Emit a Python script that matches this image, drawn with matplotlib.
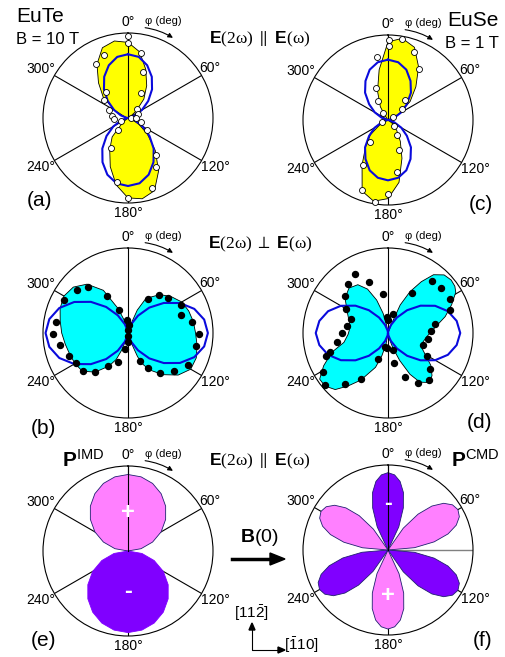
import numpy as np
import matplotlib.pyplot as plt

plt.rcParams['font.family'] = ['Liberation Sans', 'DejaVu Sans']
plt.rcParams['mathtext.fontset'] = 'custom'
plt.rcParams['mathtext.rm'] = 'Liberation Serif'
plt.rcParams['mathtext.it'] = 'Liberation Serif:italic'
plt.rcParams['mathtext.bf'] = 'Liberation Sans:bold'
plt.rcParams['mathtext.sf'] = 'Liberation Sans'

# angles in degrees (clockwise from top), radii relative to the outer circle
TICKS = [0, 60, 120, 180, 240, 300]
FIT_PHI = list(range(0, 361, 10))

# (a) EuTe, B = 10 T, E(2w) || E(w)
A_UP_PHI = [285, 290, 300, 310, 320, 330, 340, 350, 360, 370, 380, 390, 400, 410, 418, 422]
A_UP_R = [0, .04, .18, .38, .54, .73, .88, .92, .89, .79, .61, .44, .29, .12, .03, 0]
A_LOW_PHI = [105, 110, 120, 130, 140, 150, 160, 170, 180, 190, 200, 210, 220, 230, 236]
A_LOW_R = [0, .05, .15, .30, .50, .72, .91, .965, .94, .80, .61, .43, .29, .08, 0]
A_FIT_R = [.75, .73, .66, .56, .44, .31, .19, .09, .02, 0, .02, .09, .20, .33, .47, .60, .71, .78,
           .80, .78, .71, .60, .47, .33, .20, .09, .02, 0, .02, .09, .19, .31, .44, .56, .66, .73, .75]
A_PTS_PHI = [0, 0, 11, 339, 329, 18, 28, 320, 307, 293, 277, 264, 47, 69, 96, 92, 106, 250, 220,
             123, 143, 209, 150, 190, 161, 180]
A_PTS_R = [.96, .88, .78, .79, .74, .57, .33, .40, .35, .24, .19, .16, .15, .13, .04, .10, .16, .09,
           .19, .26, .54, .41, .67, .76, .87, .94]

# (c) EuSe, B = 1 T, E(2w) || E(w)
C_UP_PHI = [318, 326, 330, 340, 350, 360, 370, 380, 390, 400, 410, 420, 426, 432]
C_UP_R = [0, .07, .18, .36, .60, .92, .975, .91, .72, .51, .34, .16, .06, 0]
C_LOW_PHI = [122, 128, 140, 150, 160, 170, 180, 190, 200, 210, 220, 230, 240, 248]
C_LOW_R = [0, .065, .16, .29, .48, .745, .925, .97, .89, .61, .41, .27, .11, 0]
C_FIT_R = [.71, .69, .63, .53, .42, .29, .18, .08, .02, 0, .02, .08, .18, .29, .42, .53, .63, .69,
           .71, .69, .63, .53, .42, .29, .18, .08, .02, 0, .02, .08, .18, .29, .42, .53, .63, .69, .71]
C_PTS_PHI = [1, 10, 1, 21, 31, 340, 331, 40, 50, 325, 58, 252, 139, 150, 219, 160, 209, 170, 200,
             180, 189, 350]
C_PTS_R = [.94, .97, .87, .86, .70, .40, .25, .31, .21, .10, .07, .07, .10, .21, .33, .38, .60, .62,
           .88, .87, .98, .75]

# (b) EuTe, E(2w) _|_ E(w)
B_LEFT_PHI = [193, 196, 200, 204, 210, 220, 230, 240, 250, 260, 270, 280, 290, 300, 310, 320, 330,
              338, 346, 352]
B_LEFT_R = [0, .08, .21, .34, .45, .60, .70, .72, .73, .75, .78, .81, .85, .87, .84, .75, .58, .31,
            .13, 0]
B_RIGHT_PHI = [14, 18, 22, 27, 30, 40, 50, 60, 70, 80, 90, 100, 110, 120, 130, 140, 150, 155, 158,
               161, 165]
B_RIGHT_R = [0, .11, .29, .44, .48, .59, .665, .73, .76, .78, .795, .825, .855, .852, .77, .64, .50,
             .40, .30, .14, 0]
B_FIT_R = [0, .03, .11, .235, .39, .55, .705, .83, .91, .94, .91, .83, .705, .55, .39, .235, .11, .03,
           0, .03, .11, .24, .40, .57, .73, .86, .94, .97, .94, .86, .73, .57, .40, .24, .11, .03, 0]
B_PTS_PHI = [319, 310, 297, 330, 339, 279, 269, 260, 249, 240, 230, 220, 211, 200, 355, 7, 182, 190,
             30, 39, 49, 62, 71, 80, 91, 101, 118, 130, 141, 150, 156, 0, 180]
B_PTS_R = [.72, .78, .85, .50, .29, .86, .88, .81, .74, .71, .69, .60, .45, .36, .15, .10, .11, .19,
           .46, .58, .62, .70, .66, .76, .84, .81, .80, .70, .60, .47, .36, .04, .04]

# (d) EuSe, E(2w) _|_ E(w)
D_LEFT_PHI = [186, 190, 195, 200, 210, 217, 223, 230, 236, 243, 251, 258, 268, 279, 296, 309, 319,
              328, 335, 341, 346, 350, 354]
D_LEFT_R = [0, .13, .275, .43, .64, .78, .91, .97, .97, .85, .70, .53, .47, .45, .53, .65, .70, .67,
            .57, .41, .24, .09, 0]
D_RIGHT_PHI = [20, 22, 23.5, 28, 33, 38, 44, 50, 55, 59, 66, 74, 83, 96, 111, 121, 127, 134, 140,
               147, 152, 157, 162, 167, 171]
D_RIGHT_R = [0, .15, .36, .55, .72, .87, .95, .97, .96, .93, .82, .70, .56, .455, .41, .52, .63, .72,
             .76, .69, .55, .35, .18, .07, 0]
D_FIT_R = [0, .03, .10, .21, .35, .50, .64, .75, .82, .85, .82, .75, .64, .50, .35, .21, .10, .03,
           0, .03, .10, .21, .35, .50, .64, .75, .82, .85, .82, .75, .64, .50, .35, .21, .10, .03, 0]
D_PTS_PHI = [331, 321, 340, 311, 352, 291, 280, 260, 250, 239, 230, 220, 210, 169, 159, 149, 139,
             130, 121, 109, 98, 88, 79, 70, 61, 50, 40, 31, 14, 358, 1, 185, 163, 252, 192, 270,
             300, 200]
D_PTS_R = [.80, .74, .64, .67, .46, .46, .49, .61, .78, .89, .96, .79, .63, .36, .55, .69, .73, .65,
           .53, .44, .47, .51, .56, .78, .83, .82, .80, .55, .23, .19, .15, .18, .21, .72, .17, .54,
           .57, .33]

# (e) P^IMD
E_PLUS_PHI = [270, 280, 290, 300, 310, 320, 330, 340, 350, 360, 370, 380, 390, 400, 410, 420, 430,
              440, 450]
E_PLUS_R = [0, .156, .308, .45, .578, .689, .779, .846, .886, .90, .886, .846, .779, .689, .578,
            .45, .308, .156, 0]
E_MINUS_PHI = [90, 100, 110, 120, 130, 140, 150, 160, 170, 180, 190, 200, 210, 220, 230, 240, 250,
               260, 270]
E_MINUS_R = [0, .167, .328, .48, .617, .735, .831, .902, .945, .96, .945, .902, .831, .735, .617,
             .48, .328, .167, 0]

# (f) P^CMD: six petals
F_DIRS = [0, 60, 120, 180, 240, 300]
F_LEN = [.91, .95, .95, .93, .93, .91]
F_REL = [-30, -25, -20, -15, -10, -5, 0, 5, 10, 15, 20, 25, 30]
F_SHAPE = [0, .33, .58, .77, .90, .975, 1, .975, .90, .77, .58, .33, 0]

# tick label placement: (angle, radius, ha, va)
LABEL_POS = {0: (0, 1.13, 'center', 'center'), 60: (55, 1.03, 'left', 'center'),
             120: (124, 1.03, 'left', 'center'), 180: (180, 1.12, 'center', 'center'),
             240: (236, 1.03, 'right', 'center'), 300: (304, 1.03, 'right', 'center')}

PINK = '#ff80ff'
VIOLET = '#8000ff'
BLUE = '#0a0adc'

W, H = 505, 657
fig = plt.figure(figsize=(W / 100, H / 100), dpi=100)
rad = np.deg2rad


def polar_panel(cx, cy, R=85):
    ax = fig.add_axes([(cx - R) / W, 1 - (cy + R) / H, 2 * R / W, 2 * R / H],
                      projection='polar')
    ax.set_theta_zero_location('N')
    ax.set_theta_direction(-1)
    ax.set_ylim(0, 1)
    ax.set_yticks([])
    ax.set_xticks(rad(TICKS))
    ax.set_xticklabels([])
    ax.grid(True, color='k', lw=0.8)
    ax.set_axisbelow(True)
    ax.spines['polar'].set_linewidth(0.8)
    for t in TICKS:
        a, r, ha, va = LABEL_POS[t]
        ax.text(rad(a), r, f'{t}°', fontsize=10, ha=ha, va=va, clip_on=False)
    # little "phi (deg)" with curved arrow
    ax.text(rad(20), 1.21, 'φ (deg)', fontsize=8, ha='center', va='center')
    ax.annotate('', xy=(rad(31), 1.08), xytext=(rad(9), 1.08),
                arrowprops=dict(arrowstyle='-|>', color='k', lw=0.8, mutation_scale=7,
                                connectionstyle='arc3,rad=-0.12'),
                annotation_clip=False)
    return ax


def top_line(ax):
    ax.plot([0, 0], [0, 1], color='k', lw=0.8, zorder=2.5)


def ftext(x, y, s, **kw):
    fig.text(x / W, 1 - y / H, s, **kw)


def lobes(ax, parts, color):
    for phi, r in parts:
        ax.fill(rad(phi), r, facecolor=color, edgecolor='k', lw=0.6, zorder=2)


# (a)
ax = polar_panel(128, 118)
lobes(ax, [(A_UP_PHI, A_UP_R), (A_LOW_PHI, A_LOW_R)], '#ffff00')
top_line(ax)
ax.plot(rad(FIT_PHI), A_FIT_R, color=BLUE, lw=1.5, zorder=3)
ax.plot(rad(A_PTS_PHI), A_PTS_R, 'o', ms=4.3, mfc='white', mec='k', mew=0.6, zorder=4,
        clip_on=False)

# (c)
ax = polar_panel(388, 120)
lobes(ax, [(C_UP_PHI, C_UP_R), (C_LOW_PHI, C_LOW_R)], '#ffff00')
top_line(ax)
ax.plot(rad(FIT_PHI), C_FIT_R, color=BLUE, lw=1.5, zorder=3)
ax.plot(rad(C_PTS_PHI), C_PTS_R, 'o', ms=4.3, mfc='white', mec='k', mew=0.6, zorder=4,
        clip_on=False)

# (b)
ax = polar_panel(128, 333)
lobes(ax, [(B_LEFT_PHI, B_LEFT_R), (B_RIGHT_PHI, B_RIGHT_R)], '#00ffff')
ax.plot(rad(FIT_PHI), B_FIT_R, color=BLUE, lw=1.5, zorder=3)
ax.plot(rad(B_PTS_PHI), B_PTS_R, 'o', ms=4.3, color='k', zorder=4)

# (d)
ax = polar_panel(388, 333)
lobes(ax, [(D_LEFT_PHI, D_LEFT_R), (D_RIGHT_PHI, D_RIGHT_R)], '#00ffff')
ax.plot(rad(FIT_PHI), D_FIT_R, color=BLUE, lw=1.5, zorder=3)
ax.plot(rad(D_PTS_PHI), D_PTS_R, 'o', ms=4.3, color='k', zorder=4, clip_on=False)

# (e)
ax = polar_panel(128, 551)
ax.fill(rad(E_PLUS_PHI), E_PLUS_R, facecolor=PINK, edgecolor='#202070', lw=0.6, zorder=2)
ax.fill(rad(E_MINUS_PHI), E_MINUS_R, facecolor=VIOLET, edgecolor=VIOLET, lw=0.6, zorder=2)
top_line(ax)
ax.text(0, 0.45, '+', color='white', fontsize=17, fontweight='bold', ha='center', va='center',
        zorder=5)
ax.text(np.pi, 0.48, '-', color='white', fontsize=17, fontweight='bold', ha='center',
        va='center', zorder=5)

# (f)
ax = polar_panel(388, 550)
ax.plot([np.pi / 2, np.pi / 2], [0, 1], color='#808080', lw=1, zorder=1.8)
for i, (d, L) in enumerate(zip(F_DIRS, F_LEN)):
    col = VIOLET if i % 2 == 0 else PINK
    ax.fill(rad(np.add(F_REL, d)), np.multiply(F_SHAPE, L), facecolor=col, edgecolor='#202070',
            lw=0.6, zorder=2)
top_line(ax)
ax.text(0, 0.55, '-', color='white', fontsize=17, fontweight='bold', ha='center', va='center',
        zorder=5)
ax.text(np.pi, 0.53, '+', color='white', fontsize=17, fontweight='bold', ha='center',
        va='center', zorder=5)

# texts
par = r'$\mathbf{E}\mathrm{(2\omega)}\ \parallel\ \mathbf{E}\mathrm{(\omega)}$'
ftext(260, 39, par, fontsize=12.5, ha='center', va='center')
ftext(260, 244, r'$\mathbf{E}\mathrm{(2\omega)}\ \perp\ \mathbf{E}\mathrm{(\omega)}$',
      fontsize=12.5, ha='center', va='center')
ftext(260, 461, par, fontsize=12.5, ha='center', va='center')

ftext(16, 17, 'EuTe', fontsize=15, ha='left', va='center')
ftext(16, 40, 'B = 10 T', fontsize=12, ha='left', va='center')
ftext(499, 20, 'EuSe', fontsize=15, ha='right', va='center')
ftext(499, 43, 'B = 1 T', fontsize=12, ha='right', va='center')

for lab, x, y in [('(a)', 40, 200), ('(b)', 43, 428), ('(c)', 481, 205), ('(d)', 479, 422),
                  ('(e)', 44, 640), ('(f)', 483, 640)]:
    ftext(x, y, lab, fontsize=15, ha='center', va='center')

ftext(62, 460, r'$\mathbf{P}^{\mathsf{IMD}}$', fontsize=15, ha='left', va='center')
ftext(451, 460, r'$\mathbf{P}^{\mathsf{CMD}}$', fontsize=15, ha='left', va='center')

ftext(259, 538, r'$\mathbf{B}\mathsf{(0)}$', fontsize=14, ha='center', va='center')
fig.add_artist(plt.Line2D([232 / W, 272 / W], [1 - 559 / H, 1 - 559 / H], color='k', lw=2.5))
fig.patches.append(plt.Polygon([[270 / W, 1 - 553 / H], [285 / W, 1 - 559 / H],
                                [270 / W, 1 - 565 / H]], closed=True, color='k',
                               transform=fig.transFigure, figure=fig))

ftext(251, 613, r'$\mathsf{[11\bar{2}]}$', fontsize=11, ha='center', va='center')
ftext(284, 645, r'$\mathsf{[\bar{1}10]}$', fontsize=11, ha='left', va='center')
fig.add_artist(plt.Line2D([252 / W, 252 / W, 280 / W], [1 - 627 / H, 1 - 650 / H, 1 - 650 / H],
                          color='k', lw=0.8))
fig.patches.append(plt.Polygon([[249 / W, 1 - 630 / H], [252 / W, 1 - 623 / H],
                                [255 / W, 1 - 630 / H]], closed=True, color='k',
                               transform=fig.transFigure, figure=fig))
fig.patches.append(plt.Polygon([[278 / W, 1 - 647 / H], [285 / W, 1 - 650 / H],
                                [278 / W, 1 - 653 / H]], closed=True, color='k',
                               transform=fig.transFigure, figure=fig))

fig.savefig('out.png', dpi=100)
